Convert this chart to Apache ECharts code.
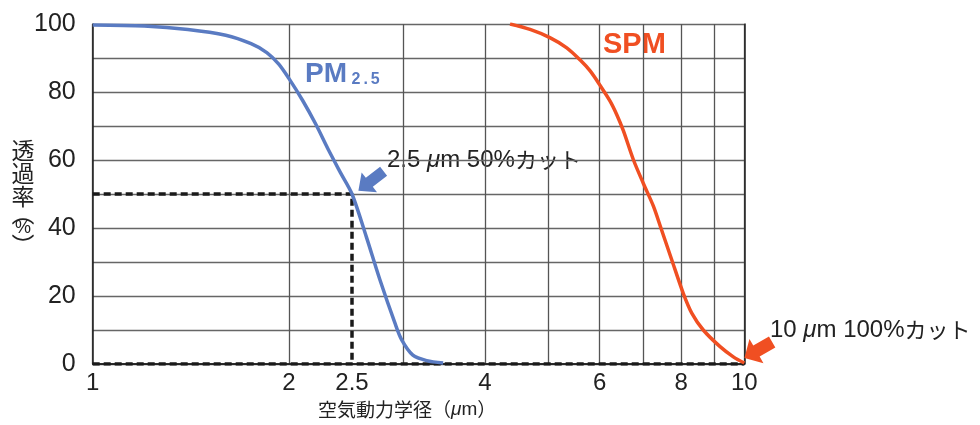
<!DOCTYPE html>
<html>
<head>
<meta charset="utf-8">
<script src="https://cdn.jsdelivr.net/npm/echarts@6/dist/echarts.min.js"></script>
<style>
  html, body { margin: 0; padding: 0; background: #fff; }
  #chart { width: 980px; height: 425px; }
</style>
</head>
<body>
<div id="chart"></div>
<script>
// Particle size (µm) vs. penetration (%) for the two size-selective inlets.
const pm25Size = [1.0, 1.2, 1.4, 1.6, 1.75, 1.85, 1.93, 2.0, 2.1, 2.2, 2.3, 2.4, 2.5, 2.63, 2.76, 2.91, 2.98, 3.10, 3.255, 3.45];
const pm25Pass = [99.7, 99.4, 98.4, 96.7, 94.2, 91.6, 88.2, 84.0, 77.5, 70.5, 63.0, 56.3, 50.0, 37.4, 24.7, 12.0, 7.1, 2.6, 1.0, 0.3];

const spmSize = [4.37, 4.69, 5.03, 5.34, 5.6, 5.8, 6.0, 6.22, 6.37, 6.52, 6.76, 7.0, 7.25, 7.43, 7.74, 8.06, 8.31, 8.65, 9.18, 9.62, 10.0];
const spmPass = [100, 98.4, 96.0, 93.0, 89.4, 86.2, 82.1, 77.4, 73.4, 68.7, 60.0, 53.1, 46.5, 40.6, 30.6, 20.8, 14.9, 10.0, 5.1, 2.1, 0.3];

// 50 % cut guide for PM2.5 and the zero baseline
const cutSize = [1, 2.5, 2.5];
const cutPass = [50, 50, 0];
const baseSize = [1, 10];
const basePass = [0, 0];

const gridTicks = [1, 2, 3, 4, 5, 6, 7, 8, 9, 10];
const xTickLabels = [1, 2, 2.5, 4, 6, 8, 10];

const BLUE = '#5a7bc2';
const ORANGE = '#f04f22';
const TEXT = '#222';
const FONT = '"Liberation Sans", "Noto Sans CJK JP", sans-serif';
const JFONT = '"Noto Sans CJK JP", sans-serif';

const zip = (xs, ys) => xs.map((x, i) => [x, ys[i]]);

// left-pointing block arrow
const ARROW = 'path://M0,11 L13,0 L13,6 L30,6 L30,16 L13,16 L13,22 Z';

const frameAxis = {
  axisLine: { show: true, lineStyle: { color: '#222', width: 1.5 } },
  axisTick: { show: false }, axisLabel: { show: false }, splitLine: { show: false }
};

const chart = echarts.init(document.getElementById('chart'), null, { renderer: 'canvas' });

chart.setOption({
  animation: false,
  backgroundColor: '#fff',
  grid: { left: 92.7, right: 235.7, top: 24, bottom: 61, containLabel: false },
  xAxis: [
    {
      type: 'log',
      logBase: 10,
      min: 1,
      max: 10,
      axisLine: { show: true, onZero: false, lineStyle: { color: '#222', width: 1.5 } },
      axisTick: { show: false, customValues: gridTicks },
      splitLine: { show: true, lineStyle: { color: '#555', width: 1.3 } },
      axisLabel: {
        customValues: xTickLabels,
        margin: 7,
        fontSize: 24,
        fontFamily: FONT,
        color: TEXT,
        formatter: v => String(v)
      }
    },
    Object.assign({ type: 'log', min: 1, max: 10, position: 'top' }, frameAxis)
  ],
  yAxis: [
    {
      type: 'value',
      min: 0,
      max: 100,
      interval: 10,
      axisLine: { show: true, lineStyle: { color: '#222', width: 1.5 } },
      axisTick: { show: false },
      splitLine: { show: true, lineStyle: { color: '#666', width: 1.3 } },
      axisLabel: {
        margin: 17,
        fontSize: 25,
        fontFamily: FONT,
        color: TEXT,
        formatter: v => (v % 20 === 0 ? String(v) : '')
      }
    },
    Object.assign({ type: 'value', min: 0, max: 100, position: 'right' }, frameAxis)
  ],
  series: [
    {
      name: 'base',
      type: 'line',
      data: zip(baseSize, basePass),
      symbol: 'none',
      lineStyle: { color: '#1a1a1a', width: 3.5, type: [7, 4] },
      z: 3
    },
    {
      name: 'cut',
      type: 'line',
      data: zip(cutSize, cutPass),
      symbol: 'none',
      lineStyle: { color: '#1a1a1a', width: 3.5, type: [7, 4] },
      z: 3
    },
    {
      name: 'PM2.5',
      type: 'line',
      data: zip(pm25Size, pm25Pass),
      symbol: 'none',
      smooth: 0.3,
      lineStyle: { color: BLUE, width: 3.5 },
      z: 4,
      markPoint: {
        silent: true,
        label: { show: false },
        data: [{
          coord: [2.5, 50],
          symbol: ARROW,
          symbolSize: [32, 25],
          symbolRotate: 38,
          symbolOffset: [19, -13],
          itemStyle: { color: BLUE }
        }]
      }
    },
    {
      name: 'SPM',
      type: 'line',
      data: zip(spmSize, spmPass),
      symbol: 'none',
      smooth: 0.3,
      lineStyle: { color: ORANGE, width: 3.5 },
      z: 4,
      markPoint: {
        silent: true,
        label: { show: false },
        data: [{
          coord: [10, 0],
          symbol: ARROW,
          symbolSize: [32, 28],
          symbolRotate: 30,
          symbolOffset: [14, -14],
          itemStyle: { color: ORANGE }
        }]
      }
    }
  ],
  graphic: [
    {
      type: 'text', x: 305, y: 74,
      style: { text: 'PM', font: 'bold 28px ' + FONT, fill: BLUE, verticalAlign: 'middle' }
    },
    {
      type: 'text', x: 350, y: 80,
      style: {
        rich: { s: { font: 'bold 16px ' + FONT, fill: BLUE, padding: [0, 1.5, 0, 1.5] } },
        text: '{s|2}{s|.}{s|5}',
        verticalAlign: 'middle'
      }
    },
    {
      type: 'text', x: 603, y: 45,
      style: { text: 'SPM', font: 'bold 29px ' + FONT, fill: ORANGE, verticalAlign: 'middle' }
    },
    {
      type: 'text', x: 387, y: 160,
      style: {
        rich: {
          n: { font: '24px ' + FONT, fill: TEXT },
          u: { font: 'italic 24px ' + FONT, fill: TEXT },
          j: { font: '22px ' + JFONT, fill: TEXT }
        },
        text: '{n|2.5 }{u|μ}{n|m 50%}{j|カット}',
        verticalAlign: 'middle'
      }
    },
    {
      type: 'text', x: 770, y: 330,
      style: {
        rich: {
          n: { font: '24px ' + FONT, fill: TEXT },
          u: { font: 'italic 24px ' + FONT, fill: TEXT },
          j: { font: '22px ' + JFONT, fill: TEXT }
        },
        text: '{n|10 }{u|μ}{n|m 100%}{j|カット}',
        verticalAlign: 'middle'
      }
    },
    // vertical axis title
    {
      type: 'text', x: 23, y: 150,
      style: { text: '透', font: '23px ' + JFONT, fill: TEXT, align: 'center', verticalAlign: 'middle' }
    },
    {
      type: 'text', x: 23, y: 173,
      style: { text: '過', font: '23px ' + JFONT, fill: TEXT, align: 'center', verticalAlign: 'middle' }
    },
    {
      type: 'text', x: 23, y: 196,
      style: { text: '率', font: '23px ' + JFONT, fill: TEXT, align: 'center', verticalAlign: 'middle' }
    },
    {
      type: 'text', x: 23, y: 213,
      style: { text: '︵', font: '23px ' + JFONT, fill: TEXT, align: 'center', verticalAlign: 'middle' }
    },
    {
      type: 'text', x: 23, y: 228,
      style: { text: '%', font: '18px ' + FONT, fill: TEXT, align: 'center', verticalAlign: 'middle' }
    },
    {
      type: 'text', x: 23, y: 245,
      style: { text: '︶', font: '23px ' + JFONT, fill: TEXT, align: 'center', verticalAlign: 'middle' }
    },
    // horizontal axis title
    {
      type: 'text', x: 318, y: 410,
      style: {
        rich: {
          j: { font: '19px ' + JFONT, fill: TEXT },
          u: { font: 'italic 19px ' + FONT, fill: TEXT },
          n: { font: '19px ' + FONT, fill: TEXT }
        },
        text: '{j|空気動力学径（}{u|μ}{n|m}{j|）}',
        verticalAlign: 'middle'
      }
    }
  ]
});
</script>
</body>
</html>
